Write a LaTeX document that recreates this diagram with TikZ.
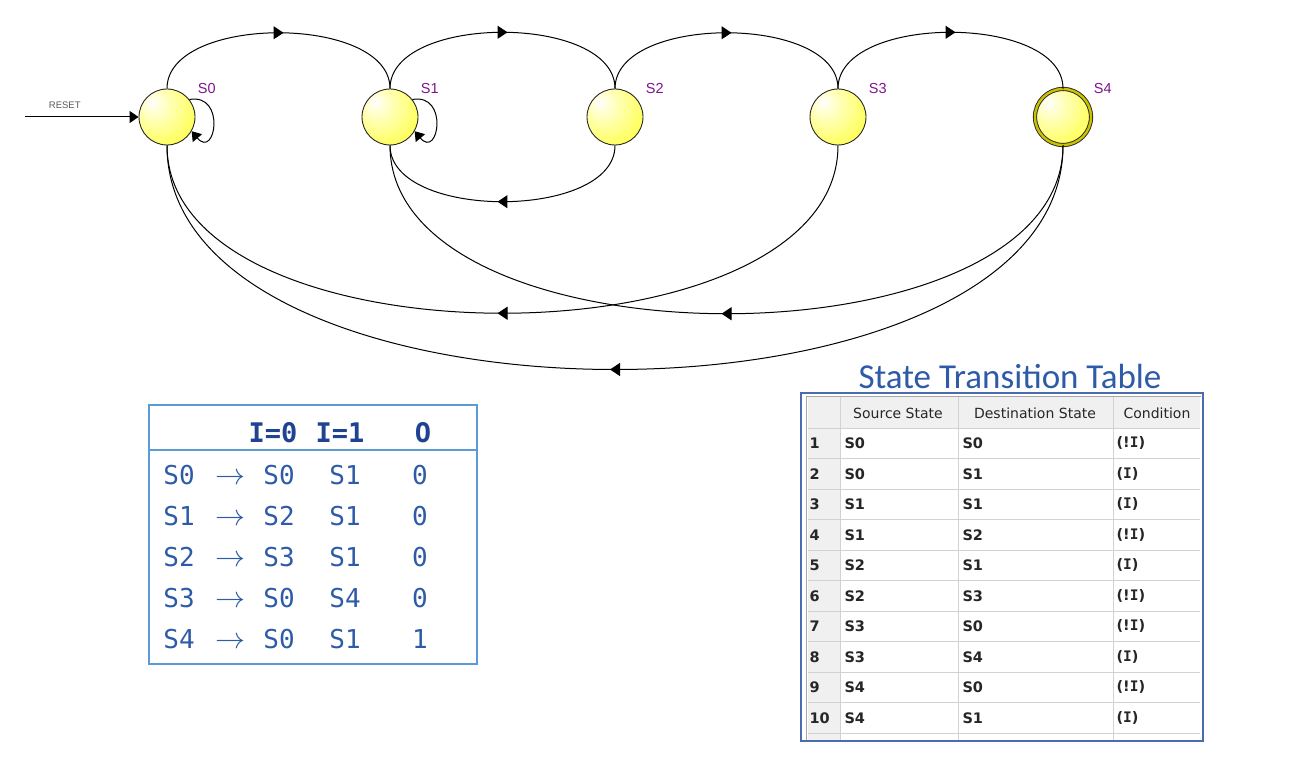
\RequirePackage{fix-cm}
\documentclass[tikz,border=0pt]{standalone}
\usepackage{fontspec}
\setmainfont{Liberation Sans}
\newfontfamily\tablemono{DejaVu Sans Mono}
\newfontfamily\gridsans{DejaVu Sans}
\newfontfamily\tabletitle{Carlito}
\usetikzlibrary{positioning}
\usetikzlibrary{decorations.markings}
\usetikzlibrary{arrows.meta}

\definecolor{statepurple}{RGB}{128,20,140}
\definecolor{stateyellow}{RGB}{255,255,70}
\definecolor{rowblue}{RGB}{46,91,168}
\definecolor{headblue}{RGB}{31,66,145}
\definecolor{boxblue}{RGB}{91,155,213}
\definecolor{frameblue}{RGB}{74,107,174}
\definecolor{gridgray}{RGB}{210,210,210}
\definecolor{cellgray}{RGB}{240,240,240}

\pgfdeclareradialshading{statehl}{\pgfpoint{-14bp}{14bp}}{color(0bp)=(white);
  color(12bp)=(stateyellow!35!white); color(38bp)=(stateyellow); color(70bp)=(stateyellow!92!black)}

\newcommand{\condI}{{\tablemono\bfseries I}}

\tikzset{
  state/.style={circle, draw=black!85, line width=0.9pt, minimum size=56pt,
    inner sep=0pt, shade, shading=statehl},
  state name/.style={text=statepurple, font=\fontsize{14.5}{14.5}\selectfont,
    label distance=2pt, xshift=4pt},
  edge line/.style={line width=1pt, black, looseness=0.855},
  midarrow/.style={postaction={decorate}, decoration={markings,
    mark=at position 0.5 with {\arrow[xshift=5pt]{Triangle[length=10pt,width=13pt]}}}},
  tip/.style={-{Triangle[length=9pt,width=12pt]}},
  reset label/.style={text=black!65, font=\fontsize{9.5}{9.5}\selectfont},
  box line/.style={draw=boxblue, line width=1.2pt},
  table head/.style={text=headblue, text height=19pt, text depth=0pt,
    font=\tablemono\bfseries\fontsize{27}{27}\selectfont},
  table cell/.style={text=rowblue, text height=19pt, text depth=0pt,
    font=\tablemono\fontsize{26}{26}\selectfont},
  title text/.style={text=rowblue, font=\tabletitle\fontsize{35}{35}\selectfont},
  grid line/.style={draw=gridgray, line width=0.8pt},
  grid head/.style={text=black!85, font=\gridsans\fontsize{14}{14}\selectfont},
  grid cell/.style={anchor=west, text=black!85, font=\gridsans\bfseries\fontsize{14.5}{14.5}\selectfont},
}

\begin{document}
\begin{tikzpicture}[x=1pt,y=1pt]
\useasboundingbox (0,0) rectangle (1300,757);

% states
\node[state, label={[state name]40:S0}] (S0) at (167,640) {};
\node[state, label={[state name]40:S1}] (S1) at (390,640) {};
\node[state, label={[state name]40:S2}] (S2) at (615,640) {};
\node[state, label={[state name]40:S3}] (S3) at (838,640) {};
\node[state, double=yellow!55!olive, double distance=2.4pt, label={[state name]40:S4}] (S4) at (1063,640) {};

% reset
\coordinate (reset) at (25,640);
\draw[edge line, tip] (reset) -- node[reset label, pos=0.35, above, yshift=5pt] (resettext) {RESET} (S0);

% transitions
\draw[edge line, midarrow] (S0.north) to[out=90,in=90] (S1.north);
\draw[edge line, midarrow] (S1.north) to[out=90,in=90] (S2.north);
\draw[edge line, midarrow] (S2.north) to[out=90,in=90] (S3.north);
\draw[edge line, midarrow] (S3.north) to[out=90,in=90] (S4.north);
\draw[edge line, midarrow] (S2.south) to[out=-90,in=-90] (S1.south);
\draw[edge line, midarrow] (S3.south) to[out=-90,in=-90] (S0.south);
\draw[edge line, midarrow] (S4.south) to[out=-90,in=-90] (S1.south);
\draw[edge line, midarrow] (S4.south) to[out=-90,in=-90] (S0.south);
\draw[edge line, tip] (S0.38) to[out=10,in=-50,looseness=3] (S0.-30);
\draw[edge line, tip] (S1.38) to[out=10,in=-50,looseness=3] (S1.-30);

% next state table
\draw[box line] (149,352) rectangle (477,93);
\draw[box line] (149,307) -- (477,307);
\node[table head] (head0) at (273,324) {I=0};
\node[table head] (head1) at (340,324) {I=1};
\node[table head] (headO) at (423,324) {O};
\foreach \src/\zero/\one/\out [count=\r] in {S0/S0/S1/0, S1/S2/S1/0, S2/S3/S1/0, S3/S0/S4/0, S4/S0/S1/1} {
  \pgfmathsetmacro\ry{323-41*\r}
  \node[table cell] (src\r) at (179,\ry) {\src};
  \node[table cell, font=\fontsize{30}{30}\selectfont] (arr\r) at (230,\ry) {$\rightarrow$};
  \node[table cell] (zero\r) at (279,\ry) {\zero};
  \node[table cell] (one\r) at (345,\ry) {\one};
  \node[table cell] (out\r) at (420,\ry) {\out};
}

% transition table
\node[title text] (title) at (1010,381) {State Transition Table};
\fill[cellgray] (808,360) rectangle (1200,329);
\fill[cellgray] (808,329) rectangle (840,16);
\foreach \k in {0,...,10}
  \draw[grid line] (808,329-30.5*\k) -- (1200,329-30.5*\k);
\foreach \gx in {840,958,1113}
  \draw[grid line] (\gx,360) -- (\gx,16);
\draw[draw=black!35, line width=0.8pt] (806,17) -- (806,361) -- (1201,361);
\draw[draw=frameblue, line width=1.2pt] (801,364) rectangle (1203,16);
\node[grid head] (hsrc) at (898,344) {Source State};
\node[grid head] (hdst) at (1035,344) {Destination State};
\node[grid head] (hcond) at (1157,344) {Condition};
\foreach \src/\dst/\cond [count=\r] in {S0/S0/(!\condI), S0/S1/(\condI), S1/S1/(\condI),
    S1/S2/(!\condI), S2/S1/(\condI), S2/S3/(!\condI), S3/S0/(!\condI), S3/S4/(\condI),
    S4/S0/(!\condI), S4/S1/(\condI)} {
  \pgfmathsetmacro\ry{344.25-30.5*\r}
  \node[grid cell] (num\r) at (806,\ry) {\r};
  \node[grid cell] (from\r) at (841,\ry) {\src};
  \node[grid cell] (to\r) at (959,\ry) {\dst};
  \node[grid cell] (cond\r) at (1113,\ry) {\cond};
}
\end{tikzpicture}
\end{document}
